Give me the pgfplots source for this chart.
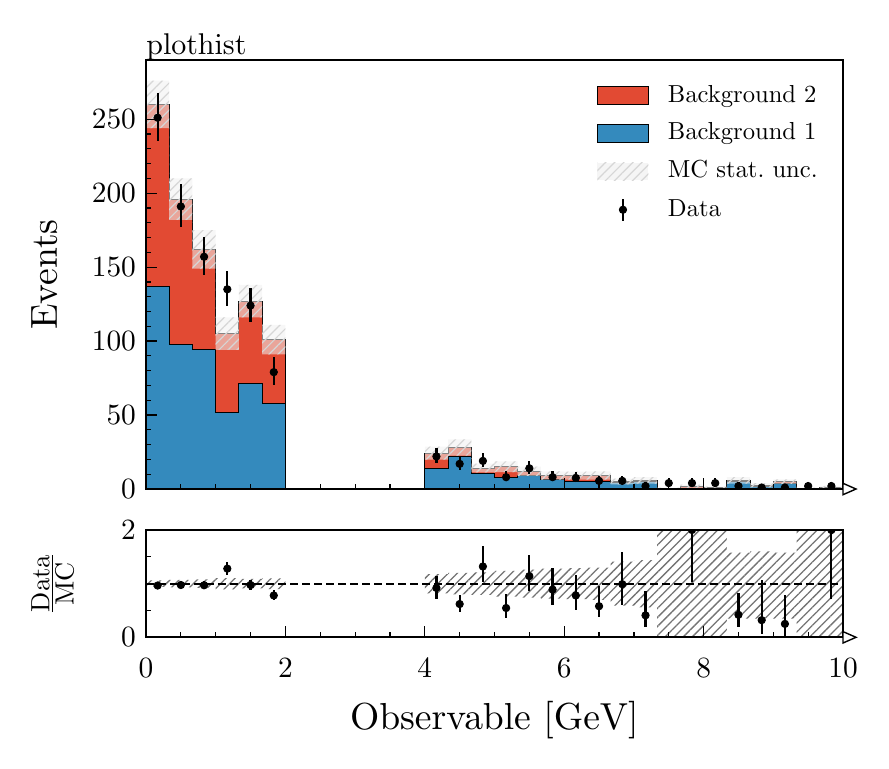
\documentclass[border=0pt]{standalone}
\usepackage{pgfplots}
\pgfplotsset{compat=1.18}
\usepackage{pgfplotstable}
\usetikzlibrary{patterns.meta}
\definecolor{bkgone}{HTML}{348ABD}
\definecolor{bkgtwo}{HTML}{E24A33}
% Computer Modern 10pt design, scaled to any size
\DeclareFontFamily{OT1}{cmten}{\hyphenchar\font=-1}
\DeclareFontShape{OT1}{cmten}{m}{n}{<->cmr10}{}
\newcommand\cm[1]{\fontencoding{OT1}\fontfamily{cmten}\fontseries{m}\fontshape{n}\fontsize{#1}{1.2\dimexpr#1pt\relax}\selectfont}
\newcommand\dataovermc{\vbox{\offinterlineskip\halign{\hfil##\hfil\cr Data\cr\noalign{\kern1.3pt\hrule height0.75pt\kern1.1pt}MC\cr}}}

% bin left edge, Background 1, total stack
\pgfplotstableread{
x blue total
0.0000 137 260
0.3333 98 196
0.6667 94 162
1.0000 52 105
1.3333 71 127
1.6667 58 101
2.0000 0 0
2.3333 0 0
2.6667 0 0
3.0000 0 0
3.3333 0 0
3.6667 0 0
4.0000 14.2 24.3
4.3333 22 28
4.6667 10.8 14.2
5.0000 8 15
5.3333 9.3 12
5.6667 6.5 9.2
6.0000 5.3 9.1
6.3333 5.3 9.2
6.6667 4.5 5.1
7.0000 5.3 5.8
7.3333 0 0.4
7.6667 0 1.5
8.0000 0 0.8
8.3333 5 5.8
8.6667 1.5 2.5
9.0000 3.8 5.0
9.3333 0 0.4
9.6667 0 1.0
10.000 0 1.0
}\mctab

% data: bin centre, count, lower and upper error
\pgfplotstableread{
x y em ep
0.1667 251 15.8 16.9
0.5000 191 13.8 14.9
0.8333 157 12.5 13.6
1.1667 135 11.6 12.6
1.5000 124 11.1 12.2
1.8333 79 8.9 9.9
4.1667 22 4.7 5.8
4.5000 17 4.1 5.2
4.8333 19 4.3 5.4
5.1667 8 2.8 4.0
5.5000 14 3.7 4.8
5.8333 8 2.8 4.0
6.1667 7.5 2.7 3.8
6.5000 5.5 2.3 3.5
6.8333 5.5 2.3 3.5
7.1667 2 1.3 2.6
7.5000 4 1.9 3.2
7.8333 4 1.9 3.2
8.1667 4 1.9 3.2
8.5000 2 1.3 2.6
8.8333 1 0.8 2.3
9.1667 1 0.8 2.3
9.5000 2 1.3 2.6
9.8333 2 1.3 2.6
}\datatab

% ratio data / MC
\pgfplotstableread{
x r em ep
0.1667 0.965 0.060 0.065
0.5000 0.975 0.070 0.075
0.8333 0.970 0.077 0.084
1.1667 1.280 0.110 0.120
1.5000 0.975 0.087 0.096
1.8333 0.780 0.088 0.098
4.1667 0.920 0.200 0.230
4.5000 0.620 0.140 0.170
4.8333 1.320 0.280 0.380
5.1667 0.546 0.180 0.260
5.5000 1.140 0.280 0.390
5.8333 0.890 0.280 0.410
6.1667 0.780 0.270 0.390
6.5000 0.580 0.210 0.370
6.8333 0.990 0.380 0.600
7.1667 0.410 0.210 0.450
7.8333 2.000 0.960 1.500
8.5000 0.420 0.220 0.410
8.8333 0.320 0.260 0.750
9.1667 0.250 0.250 0.540
9.8333 2.000 1.290 2.600
}\ratiotab

\begin{document}
\begin{tikzpicture}
\pgfplotsset{
  common/.style={
    scale only axis, width=348.5pt, xmin=0, xmax=10,
    axis line style={line width=1pt},
    tick align=inside, tick pos=left,
    major tick length=5.5pt, minor tick length=2.5pt,
    every tick/.style={black, line width=0.6pt},
    xtick={0,2,...,10}, minor x tick num=3,
    /pgf/number format/assume math mode=true,
    tick label style={font=\cm{14.7}},
    yticklabel style={xshift=-1.5pt},
    axis on top,
    clip marker paths=true,
  },
  band/.style={const plot, draw=none, forget plot},
}
\begin{axis}[common, name=top, at={(0pt,0pt)}, anchor=south west, height=214.5pt, ymin=0, ymax=290,
  ytick={0,50,...,250}, minor y tick num=4, xticklabels={},
  ylabel={Events},
  every axis y label/.style={at={(rel axis cs:0,0.5)}, xshift=-51pt, rotate=90, anchor=center, font=\cm{18.8}},
  title={plothist},
  title style={at={(rel axis cs:0,1)}, anchor=base west, yshift=-3.15pt, inner sep=0pt, font=\cm{15}},
  legend style={at={(rel axis cs:0.647,0.943)}, anchor=north west, draw=none, fill=none, inner sep=0pt, outer sep=0pt,
    font=\cm{12.3}, row sep=7.6pt, column sep=0pt,
    nodes={inner sep=0pt, text height=8.8pt, text depth=2.5pt},
    /tikz/every odd column/.style={column sep=9.5pt}},
  legend cell align=left,
]
\addplot[const plot, fill=bkgtwo, draw=black, line width=0.5pt, forget plot] table[x=x, y=total] {\mctab} \closedcycle;
\addplot[const plot, fill=bkgone, draw=black, line width=0.5pt, forget plot] table[x=x, y=blue] {\mctab} \closedcycle;
% MC stat. unc. band: upper edge forward, lower edge backward
\addplot[band, fill=black!6, fill opacity=0.55] coordinates {
 (0,276) (0.3333,210) (0.6667,175) (1,116) (1.3333,138) (1.6667,111) (2,111)
 (2,91) (1.6667,116) (1.3333,94) (1,149) (0.6667,182) (0.3333,244) (0,276)};
\addplot[band, pattern={Lines[angle=45, distance=3.2pt, line width=0.6pt]}, pattern color=black!16] coordinates {
 (0,276) (0.3333,210) (0.6667,175) (1,116) (1.3333,138) (1.6667,111) (2,111)
 (2,91) (1.6667,116) (1.3333,94) (1,149) (0.6667,182) (0.3333,244) (0,276)};
\addplot[band, fill=black!6, fill opacity=0.55] coordinates {
 (4,28.7) (4.3333,33.5) (4.6667,17.2) (5,18.6) (5.3333,15.2) (5.6667,12.0) (6,11.8) (6.3333,12.0) (6.6667,7.1) (7,8.0)
 (7.3333,0.9) (7.6667,3.0) (8,1.6) (8.3333,8.0) (8.6667,3.9) (9,6.5) (9.3333,0.9) (9.6667,2.1) (10,2.1)
 (10,0) (9.6667,0) (9.3333,3.5) (9,1.1) (8.6667,3.6) (8.3333,0) (8,0) (7.6667,0) (7.3333,3.6) (7,3.1)
 (6.6667,6.4) (6.3333,6.4) (6,6.4) (5.6667,8.8) (5.3333,11.4) (5,11.2) (4.6667,22.5) (4.3333,19.9) (4,28.7)};
\addplot[band, pattern={Lines[angle=45, distance=3.2pt, line width=0.6pt]}, pattern color=black!16] coordinates {
 (4,28.7) (4.3333,33.5) (4.6667,17.2) (5,18.6) (5.3333,15.2) (5.6667,12.0) (6,11.8) (6.3333,12.0) (6.6667,7.1) (7,8.0)
 (7.3333,0.9) (7.6667,3.0) (8,1.6) (8.3333,8.0) (8.6667,3.9) (9,6.5) (9.3333,0.9) (9.6667,2.1) (10,2.1)
 (10,0) (9.6667,0) (9.3333,3.5) (9,1.1) (8.6667,3.6) (8.3333,0) (8,0) (7.6667,0) (7.3333,3.6) (7,3.1)
 (6.6667,6.4) (6.3333,6.4) (6,6.4) (5.6667,8.8) (5.3333,11.4) (5,11.2) (4.6667,22.5) (4.3333,19.9) (4,28.7)};
\addplot[only marks, mark=*, mark size=1.85pt, black, forget plot,
  error bars/.cd, y dir=both, y explicit, error bar style={line width=1.1pt}, error mark=none]
  table[x=x, y=y, y error minus=em, y error plus=ep] {\datatab};

\addlegendimage{legend image code/.code={\draw[fill=bkgtwo, draw=black, line width=0.5pt] (0pt,-4.4pt) rectangle (25.5pt,4.4pt);}}
\addlegendentry{Background 2}
\addlegendimage{legend image code/.code={\draw[fill=bkgone, draw=black, line width=0.5pt] (0pt,-4.4pt) rectangle (25.5pt,4.4pt);}}
\addlegendentry{Background 1}
\addlegendimage{legend image code/.code={\path[fill=black!4, draw=none] (0pt,-4.4pt) rectangle (25.5pt,4.4pt); \path[pattern={Lines[angle=45, distance=3.2pt, line width=0.6pt]}, pattern color=black!16, draw=none] (0pt,-4.4pt) rectangle (25.5pt,4.4pt);}}
\addlegendentry{MC stat.\ unc.}
\addlegendimage{legend image code/.code={\draw[line width=1.1pt] (12.75pt,-5.4pt) -- (12.75pt,5.4pt); \fill (12.75pt,0pt) circle (1.85pt);}}
\addlegendentry{Data}
\end{axis}

\begin{axis}[common, name=ratio, at={(0pt,-74.15pt)}, anchor=south west, height=53.65pt,
  ymin=0, ymax=2, ytick={0,2}, minor ytick={0.5,1,1.5},
  xticklabel style={yshift=-7pt},
  xlabel={Observable [GeV]},
  every axis x label/.style={at={(rel axis cs:0.5,0)}, yshift=-41.5pt, anchor=center, font=\cm{18.8}},
  ylabel={\dataovermc},
  every axis y label/.style={at={(rel axis cs:0,0.5)}, xshift=-46.75pt, rotate=90, anchor=center, inner sep=0pt, font=\cm{13.2}},
]
\addplot[band, pattern={Lines[angle=45, distance=3.2pt, line width=0.65pt]}, pattern color=black!55] coordinates {
 (0,1.062) (0.3333,1.071) (0.6667,1.08) (1,1.105) (1.3333,1.087) (1.6667,1.1) (2,1.1)
 (2,0.9) (1.6667,0.913) (1.3333,0.895) (1,0.92) (0.6667,0.929) (0.3333,0.938) (0,1.062)};
\addplot[band, pattern={Lines[angle=45, distance=3.2pt, line width=0.65pt]}, pattern color=black!55] coordinates {
 (4,1.18) (4.3333,1.2) (4.6667,1.21) (5,1.24) (5.3333,1.26) (5.6667,1.28) (6,1.29) (6.3333,1.3) (6.6667,1.41) (7,1.44)
 (7.3333,2.2) (7.6667,2.2) (8,2.2) (8.3333,1.58) (8.6667,1.6) (9,1.58) (9.3333,2.2) (9.6667,2.2) (10,2.2)
 (10,0) (9.6667,0) (9.3333,0.35) (9,0.35) (8.6667,0.35) (8.3333,0) (8,0) (7.6667,0) (7.3333,0.56) (7,0.59)
 (6.6667,0.70) (6.3333,0.71) (6,0.72) (5.6667,0.74) (5.3333,0.76) (5,0.79) (4.6667,0.80) (4.3333,0.82) (4,1.18)};
\addplot[black, line width=0.85pt, dash pattern=on 4pt off 2pt, forget plot] coordinates {(0,1) (10,1)};
\addplot[only marks, mark=*, mark size=1.85pt, black, forget plot,
  error bars/.cd, y dir=both, y explicit, error bar style={line width=1.1pt}, error mark=none]
  table[x=x, y=r, y error minus=em, y error plus=ep] {\ratiotab};
\end{axis}

\draw[line width=0.7pt, fill=white] (top.south east) ++(0,2.85pt) -- ++(6.5pt,-2.85pt) -- ++(-6.5pt,-2.85pt) -- cycle;
\draw[line width=0.7pt, fill=white] (ratio.south east) ++(0,2.85pt) -- ++(6.5pt,-2.85pt) -- ++(-6.5pt,-2.85pt) -- cycle;
\path (-73pt,-139.5pt) rectangle (371.5pt,244.5pt);
\end{tikzpicture}
\end{document}
